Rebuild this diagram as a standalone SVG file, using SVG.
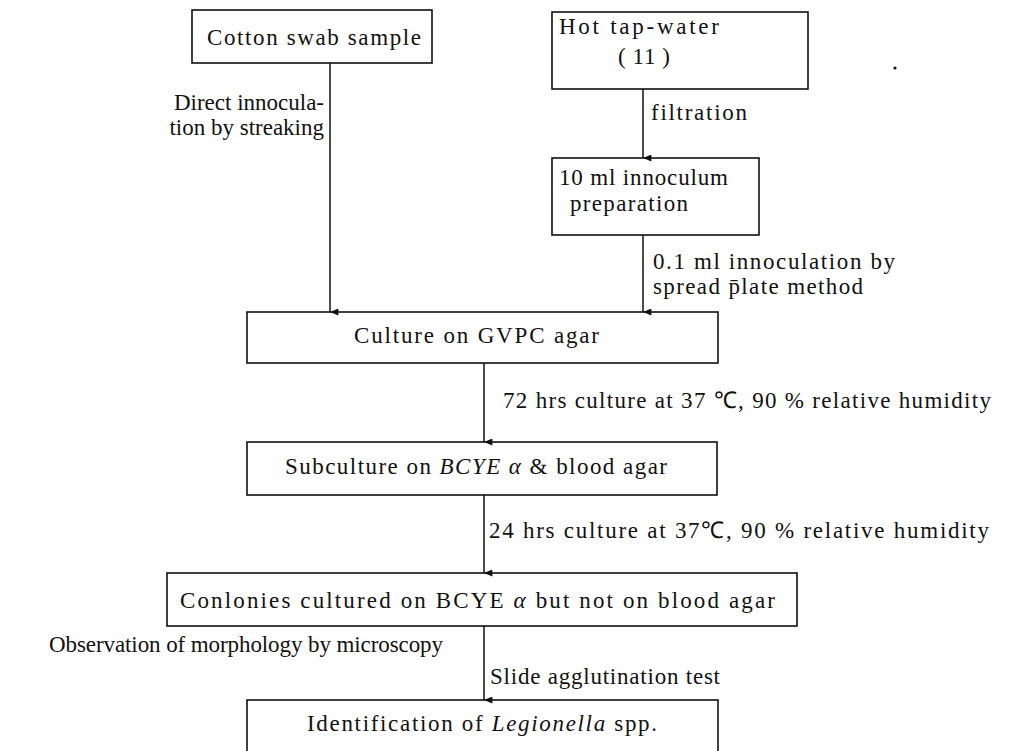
<svg xmlns="http://www.w3.org/2000/svg" width="1011" height="751" viewBox="0 0 1011 751">
<defs>
<marker id="ah" viewBox="0 0 10 12" refX="5" refY="12" markerWidth="7" markerHeight="10" markerUnits="userSpaceOnUse" orient="auto-start-reverse">
<path d="M0,0 L10,0 L5,12 Z" fill="#111"/>
</marker>
<style>
.box{fill:#fff;stroke:#111;stroke-width:1.6}
.t{font-family:"Liberation Serif","Times New Roman",serif;font-size:23px;fill:#111}
.c{stroke:#111;stroke-width:1.5;fill:none}
.i{font-style:italic}
</style>
</defs>
<rect width="1011" height="751" fill="#fff"/>
<g id="cotton">
<rect class="box" x="192" y="10" width="240" height="53"/>
<text class="t" x="207" y="45" textLength="214" lengthAdjust="spacing">Cotton swab sample</text>
</g>
<g id="hotwater">
<rect class="box" x="552" y="12" width="256" height="77"/>
<text class="t" x="559" y="34" textLength="160" lengthAdjust="spacing">Hot tap-water</text>
<text class="t" x="618" y="64" textLength="52" lengthAdjust="spacing">( 11 )</text>
</g>
<g id="inoculum">
<rect class="box" x="552" y="158" width="207" height="77"/>
<text class="t" x="559" y="185" textLength="169" lengthAdjust="spacing">10 ml innoculum</text>
<text class="t" x="570" y="211" textLength="118" lengthAdjust="spacing">preparation</text>
</g>
<g id="gvpc">
<rect class="box" x="247" y="312" width="471" height="51"/>
<text class="t" x="354" y="343" textLength="245" lengthAdjust="spacing">Culture on GVPC  agar</text>
</g>
<g id="subculture">
<rect class="box" x="247" y="442" width="470" height="53"/>
<text class="t" x="285" y="474" textLength="382" lengthAdjust="spacing">Subculture on <tspan class="i">BCYE α</tspan> &amp; blood agar</text>
</g>
<g id="colonies">
<rect class="box" x="167" y="573" width="630" height="53"/>
<text class="t" x="180" y="608" textLength="595" lengthAdjust="spacing">Conlonies cultured on BCYE <tspan class="i">α</tspan> but not on blood agar</text>
</g>
<g id="identification">
<rect class="box" x="247" y="700" width="471" height="60"/>
<text class="t" x="307" y="731" textLength="350" lengthAdjust="spacing">Identification of <tspan class="i">Legionella</tspan> spp.</text>
</g>
<g id="connectors">
<line class="c" x1="330" y1="63" x2="330" y2="312" marker-end="url(#ah)"/>
<line class="c" x1="643" y1="89" x2="643" y2="158" marker-end="url(#ah)"/>
<line class="c" x1="643" y1="235" x2="643" y2="312" marker-end="url(#ah)"/>
<line class="c" x1="484" y1="363" x2="484" y2="442" marker-end="url(#ah)"/>
<line class="c" x1="484" y1="495" x2="484" y2="573" marker-end="url(#ah)"/>
<line class="c" x1="484" y1="626" x2="484" y2="700" marker-end="url(#ah)"/>
</g>
<g id="labels">
<text class="t" x="324" y="110" text-anchor="end">Direct innocula-</text>
<text class="t" x="324" y="135" text-anchor="end">tion by streaking</text>
<text class="t" x="651" y="120" textLength="96" lengthAdjust="spacing">filtration</text>
<text class="t" x="653" y="269" textLength="242" lengthAdjust="spacing">0.1 ml  innoculation by</text>
<text class="t" x="653" y="294" textLength="210" lengthAdjust="spacing">spread p̄late  method</text>
<text class="t" x="503" y="408" textLength="488" lengthAdjust="spacing">72 hrs  culture  at  37 ℃,  90 % relative humidity</text>
<text class="t" x="489" y="538" textLength="500" lengthAdjust="spacing">24 hrs culture  at  37℃,  90 % relative humidity</text>
<text class="t" x="49" y="652" textLength="394" lengthAdjust="spacing">Observation of morphology  by  microscopy</text>
<text class="t" x="490" y="684" textLength="230" lengthAdjust="spacing">Slide agglutination test</text>
<circle cx="895" cy="68" r="1.6" fill="#111"/>
</g>
</svg>
